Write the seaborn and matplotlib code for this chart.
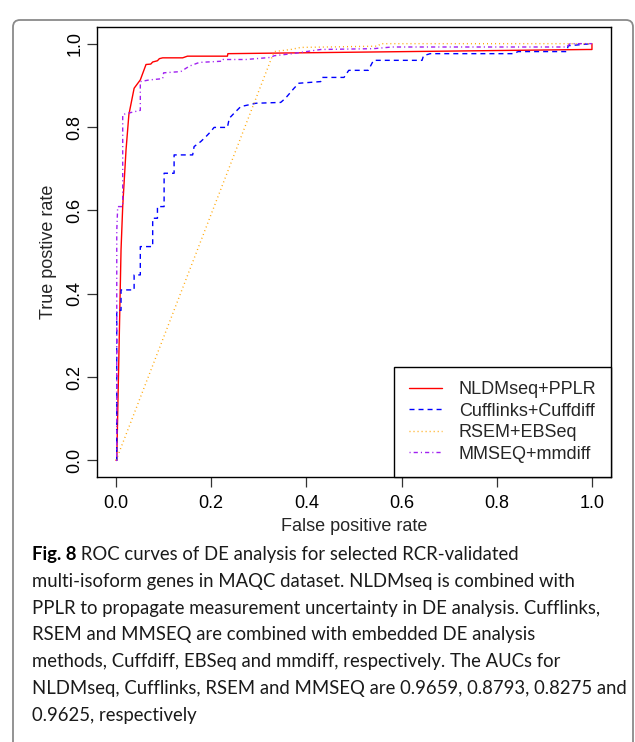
import matplotlib
matplotlib.use("Agg")
import matplotlib.pyplot as plt
import seaborn as sns
import numpy as np
import pandas as pd
from matplotlib.patches import FancyBboxPatch
from matplotlib.transforms import IdentityTransform

# ROC curve vertices
nldm_fpr = [0, 0.0015, 0.0105, 0.014, 0.021, 0.027, 0.038, 0.051, 0.063, 0.073, 0.077, 0.087,
            0.091, 0.098, 0.14, 0.15, 0.234, 0.235, 0.99, 1.0, 1.0]
nldm_tpr = [0, 0.0, 0.505, 0.609, 0.745, 0.83, 0.893, 0.913, 0.95, 0.951, 0.956, 0.959,
            0.964, 0.966, 0.966, 0.970, 0.970, 0.976, 0.986, 0.986, 1.0]

cuff_fpr = [0, 0.0015, 0.0015, 0.0105, 0.0105, 0.038, 0.038, 0.051, 0.051, 0.073, 0.077, 0.077,
            0.087, 0.087, 0.101, 0.101, 0.122, 0.122, 0.161, 0.164, 0.178, 0.189, 0.199, 0.206,
            0.234, 0.238, 0.248, 0.262, 0.294, 0.346, 0.356, 0.374, 0.384, 0.43, 0.433, 0.479,
            0.489, 0.53, 0.541, 0.643, 0.646, 0.66, 0.835, 0.845, 0.947, 0.95, 1.0]
cuff_tpr = [0, 0.0, 0.36, 0.36, 0.409, 0.409, 0.445, 0.445, 0.513, 0.513, 0.513, 0.581,
            0.581, 0.609, 0.609, 0.689, 0.689, 0.733, 0.733, 0.753, 0.765, 0.777, 0.789, 0.799,
            0.799, 0.821, 0.833, 0.849, 0.857, 0.859, 0.869, 0.893, 0.905, 0.909, 0.919, 0.919,
            0.936, 0.936, 0.96, 0.96, 0.971, 0.976, 0.976, 0.981, 0.981, 0.995, 1.0]

rsem_fpr = [0, 0.332, 0.367, 0.388, 0.55, 0.556, 1.0]
rsem_tpr = [0, 0.981, 0.986, 0.991, 0.994, 1.0, 1.0]

mmseq_fpr = [0, 0.0015, 0.0015, 0.0035, 0.014, 0.014, 0.051, 0.051, 0.070, 0.098, 0.100, 0.136,
             0.154, 0.175, 0.224, 0.225, 0.273, 0.325, 0.332, 0.37, 0.43, 0.541, 0.58, 0.947,
             0.954, 1.0]
mmseq_tpr = [0, 0.0, 0.55, 0.609, 0.609, 0.83, 0.84, 0.909, 0.913, 0.916, 0.93, 0.933,
             0.946, 0.955, 0.958, 0.962, 0.962, 0.967, 0.971, 0.976, 0.986, 0.988, 0.992, 0.992,
             1.0, 1.0]

methods = ["NLDMseq+PPLR", "Cufflinks+Cuffdiff", "RSEM+EBSeq", "MMSEQ+mmdiff"]
colors = ["#FF0000", "#0000FF", "#FFA500", "#A020F0"]
line_styles = ["-", (0, (3.6, 2.9)), (0, (0.7, 2.2)), (0, (0.8, 2.2, 3.0, 2.2))]

caption_lines = [
    " ROC curves of DE analysis for selected RCR-validated",
    "multi-isoform genes in MAQC dataset. NLDMseq is combined with",
    "PPLR to propagate measurement uncertainty in DE analysis. Cufflinks,",
    "RSEM and MMSEQ are combined with embedded DE analysis",
    "methods, Cuffdiff, EBSeq and mmdiff, respectively. The AUCs for",
    "NLDMseq, Cufflinks, RSEM and MMSEQ are 0.9659, 0.8793, 0.8275 and",
    "0.9625, respectively",
]
caption_label = "Fig. 8"

sns.set_style("ticks")
plt.rcParams["font.family"] = ["Liberation Sans", "DejaVu Sans"]

FS = 13.0
W, H = 635, 742
fig = plt.figure(figsize=(W / 100, H / 100), dpi=100)
ax = fig.add_axes([97 / W, 1 - 477 / H, (611 - 97) / W, (477 - 27) / H])

curves = [(nldm_fpr, nldm_tpr), (cuff_fpr, cuff_tpr), (rsem_fpr, rsem_tpr), (mmseq_fpr, mmseq_tpr)]
for (fpr, tpr), name, col, ls in zip(curves, methods, colors, line_styles):
    df = pd.DataFrame({"fpr": fpr, "tpr": tpr})
    sns.lineplot(data=df, x="fpr", y="tpr", sort=False, estimator=None, color=col,
                 linestyle=ls, linewidth=1.0, label=name, ax=ax)

ax.set_xlim(-0.04, 1.04)
ax.set_ylim(-0.04, 1.04)
ticks = [0.0, 0.2, 0.4, 0.6, 0.8, 1.0]
ax.set_xticks(ticks)
ax.set_yticks(ticks)
ax.set_xticklabels([f"{t:.1f}" for t in ticks])
ax.set_yticklabels([f"{t:.1f}" for t in ticks], rotation=90, va="center")
ax.tick_params(axis="both", length=7.5, width=0.9, color="#333333", labelsize=FS,
               labelcolor="black", direction="out")
ax.tick_params(axis="x", pad=5.6)
ax.tick_params(axis="y", pad=2.4)
for sp in ax.spines.values():
    sp.set_visible(True)
    sp.set_color("black")
    sp.set_linewidth(1.0)
ax.grid(False)
ax.set_xlabel("False positive rate", fontsize=FS, labelpad=4.4)
ax.set_ylabel("True postive rate", fontsize=FS, labelpad=6.8)

leg = ax.legend(loc="lower right", borderaxespad=0, fontsize=FS, frameon=True, fancybox=False,
                edgecolor="black", framealpha=1, handlelength=1.83, handletextpad=0.94,
                labelspacing=0.25, borderpad=0.8)
leg.get_frame().set_linewidth(1.0)

# caption below the plot
renderer = fig.canvas.get_renderer()
cap_family = ["Lato", "DejaVu Sans"]
probe = fig.text(0, 0, caption_lines[5], fontsize=13, family=cap_family)
wid = probe.get_window_extent(renderer).width
probe.remove()
cap_size = 13 * 594 / wid

x0 = 32
base0 = 560
step = 26.8
bold = fig.text(x0, H - base0, caption_label, fontsize=cap_size, family=cap_family,
                fontweight="bold", color="black", va="baseline", transform=IdentityTransform())
bw = bold.get_window_extent(renderer).width
for i, line in enumerate(caption_lines):
    xs = x0 + bw if i == 0 else x0
    fig.text(xs, H - (base0 + i * step), line, fontsize=cap_size, family=cap_family,
             color="#1a1a1a", va="baseline", transform=IdentityTransform())

# rounded outer frame (open at the bottom)
frame = FancyBboxPatch((13, -30), 620, 752, boxstyle="round,pad=0,rounding_size=7",
                       transform=IdentityTransform(), fill=False, ec="#8a8a8a", lw=1.3)
fig.add_artist(frame)

fig.savefig("out.png", dpi=100)
